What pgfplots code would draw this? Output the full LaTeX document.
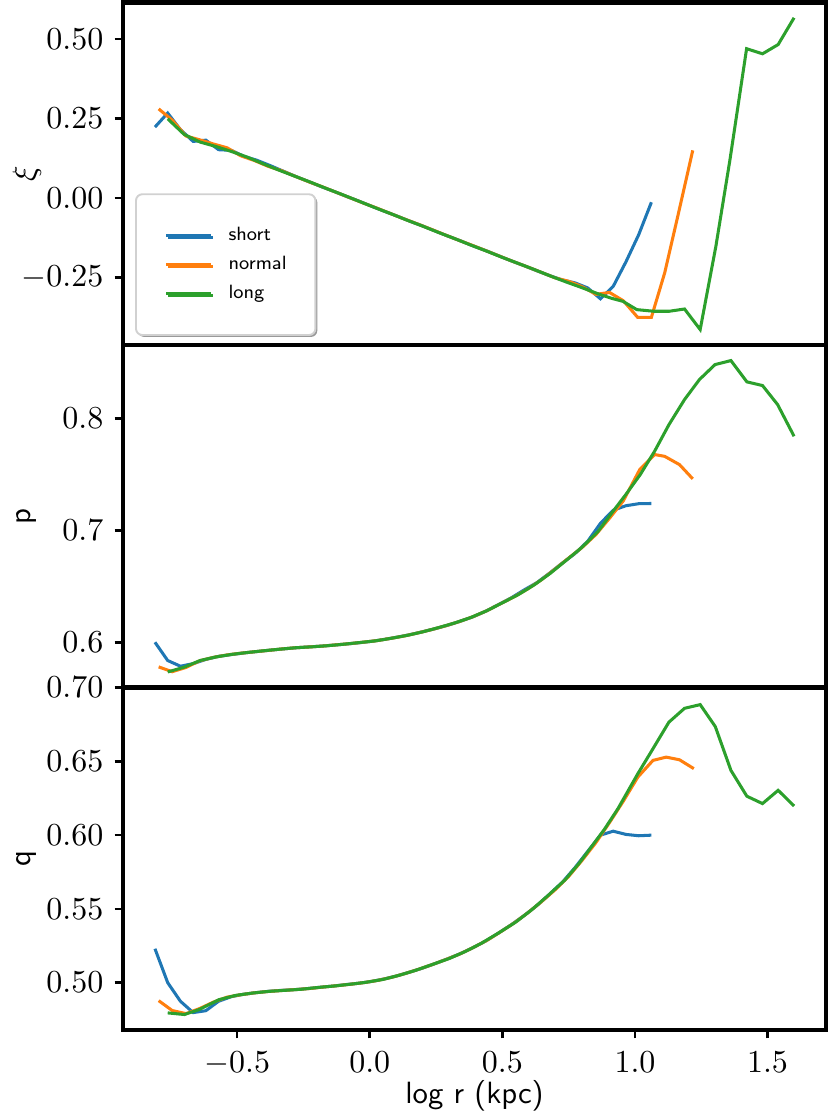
\documentclass[border=0pt]{standalone}
\usepackage{pgfplots}
\pgfplotsset{compat=1.18}
\usetikzlibrary{shadows}
\definecolor{tabblue}{HTML}{1F77B4}
\definecolor{taborange}{HTML}{FF7F0E}
\definecolor{tabgreen}{HTML}{2CA02C}
\pgfplotsset{
 panel/.style={
  scale only axis, width=219.69pt, height=107.03pt,
  xmin=-0.9305, xmax=1.7205,
  axis line style={line width=1.4pt},
  tick align=outside, tick pos=left,
  major tick length=2.6pt,
  every tick/.style={black, line width=0.8pt},
  tick label style={font=\fontsize{10}{12}\selectfont},
  xticklabel style={yshift=-0.8pt},
  xtick={-0.5,0,0.5,1,1.5},
  xticklabel style={/pgf/number format/.cd, fixed, fixed zerofill, precision=1},
  scaled y ticks=false, scaled x ticks=false,
  every axis y label/.style={at={(axis description cs:-0.1366,0.5)}, rotate=90, anchor=center, font=\sffamily\fontsize{9.6}{11}\selectfont},
  every axis plot/.append style={line width=0.95pt},
 },
}
\begin{document}
\begin{tikzpicture}
\path[use as bounding box] (-38.44pt,-25.31pt) rectangle (220.94pt,321.875pt);
% ---------- panel 1: xi ----------
\begin{axis}[panel, at={(0pt,214.06pt)},
  ymin=-0.461, ymax=0.614, ytick={-0.25,0,0.25,0.5},
  yticklabel style={/pgf/number format/.cd, fixed, fixed zerofill, precision=2},
  xtick=\empty, ylabel={$\xi$},
  legend cell align=left,
  legend image code/.code={\draw[#1, line width=0.95pt] (0pt,0pt) -- (14pt,0pt);},
  legend style={at={(axis description cs:0.0171,0.0263)}, anchor=south west,
    draw=black!18, line width=0.6pt, rounded corners=2pt, fill=white,
    drop shadow={shadow xshift=0.6pt, shadow yshift=-0.6pt, fill=black!40, opacity=1},
    font=\sffamily\fontsize{6}{7}\selectfont,
    inner xsep=9pt, inner ysep=10pt, row sep=3.3pt, column sep=5pt,
    nodes={inner sep=0pt, text height=4.4pt, text depth=1.4pt}},
]
\addplot[color=tabblue] coordinates {(-0.810,0.223)(-0.762,0.267)(-0.714,0.215)(-0.666,0.178)(-0.618,0.182)(-0.570,0.152)(-0.522,0.150)(-0.474,0.131)(-0.426,0.119)(-0.378,0.103)(-0.330,0.086)(-0.282,0.069)(-0.234,0.053)(-0.186,0.037)(-0.138,0.022)(-0.090,0.006)(-0.042,-0.009)(0.006,-0.025)(0.054,-0.041)(0.102,-0.056)(0.150,-0.072)(0.198,-0.087)(0.246,-0.103)(0.294,-0.119)(0.342,-0.134)(0.390,-0.150)(0.438,-0.165)(0.486,-0.181)(0.534,-0.197)(0.582,-0.212)(0.630,-0.228)(0.678,-0.243)(0.726,-0.257)(0.774,-0.266)(0.822,-0.282)(0.870,-0.316)(0.918,-0.277)(0.966,-0.200)(1.014,-0.115)(1.062,-0.013)};
\addlegendentry{short}
\addplot[color=taborange] coordinates {(-0.796,0.280)(-0.745,0.245)(-0.693,0.195)(-0.641,0.183)(-0.590,0.170)(-0.538,0.158)(-0.487,0.133)(-0.435,0.118)(-0.384,0.100)(-0.332,0.086)(-0.280,0.068)(-0.229,0.051)(-0.177,0.035)(-0.126,0.018)(-0.074,0.001)(-0.023,-0.016)(0.029,-0.032)(0.080,-0.049)(0.132,-0.066)(0.183,-0.082)(0.235,-0.099)(0.286,-0.116)(0.338,-0.133)(0.389,-0.149)(0.441,-0.166)(0.492,-0.183)(0.544,-0.200)(0.595,-0.216)(0.647,-0.233)(0.698,-0.250)(0.750,-0.261)(0.801,-0.278)(0.853,-0.302)(0.904,-0.296)(0.956,-0.322)(1.010,-0.374)(1.062,-0.374)(1.112,-0.235)(1.162,-0.055)(1.218,0.150)};
\addlegendentry{normal}
\addplot[color=tabgreen] coordinates {(-0.762,0.249)(-0.700,0.200)(-0.640,0.176)(-0.580,0.162)(-0.520,0.146)(-0.460,0.128)(-0.400,0.107)(-0.340,0.087)(-0.280,0.068)(-0.220,0.049)(-0.160,0.029)(-0.100,0.010)(-0.040,-0.010)(0.020,-0.030)(0.080,-0.049)(0.140,-0.069)(0.200,-0.088)(0.260,-0.108)(0.320,-0.127)(0.380,-0.147)(0.440,-0.166)(0.500,-0.186)(0.560,-0.205)(0.620,-0.224)(0.680,-0.244)(0.740,-0.263)(0.800,-0.281)(0.860,-0.300)(0.910,-0.314)(0.955,-0.324)(1.007,-0.350)(1.070,-0.355)(1.130,-0.355)(1.187,-0.348)(1.246,-0.4125)(1.305,-0.152)(1.358,0.119)(1.421,0.469)(1.481,0.453)(1.540,0.482)(1.600,0.566)};
\addlegendentry{long}
\end{axis}
% ---------- panel 2: p ----------
\begin{axis}[panel, at={(0pt,107.03pt)},
  ymin=0.5599, ymax=0.8657, ytick={0.6,0.7,0.8},
  yticklabel style={/pgf/number format/.cd, fixed, fixed zerofill, precision=1},
  xtick=\empty, ylabel={p},
]
\addplot[color=tabblue] coordinates {(-0.810,0.6003)(-0.762,0.5840)(-0.714,0.5789)(-0.666,0.5812)(-0.618,0.5850)(-0.570,0.5877)(-0.522,0.5893)(-0.474,0.5908)(-0.426,0.5920)(-0.378,0.5932)(-0.330,0.5943)(-0.282,0.5953)(-0.234,0.5961)(-0.186,0.5968)(-0.138,0.5977)(-0.090,0.5987)(-0.042,0.5998)(0.006,0.6011)(0.054,0.6028)(0.102,0.6048)(0.150,0.6070)(0.198,0.6096)(0.246,0.6124)(0.294,0.6155)(0.342,0.6191)(0.390,0.6231)(0.438,0.6281)(0.486,0.6340)(0.534,0.6400)(0.582,0.6470)(0.630,0.6535)(0.678,0.6620)(0.726,0.6710)(0.774,0.6795)(0.822,0.6905)(0.870,0.7065)(0.918,0.7182)(0.966,0.7222)(1.014,0.7240)(1.062,0.7242)};
\addplot[color=taborange] coordinates {(-0.796,0.5783)(-0.745,0.5740)(-0.693,0.5778)(-0.641,0.5838)(-0.590,0.5868)(-0.538,0.5890)(-0.487,0.5905)(-0.435,0.5918)(-0.384,0.5930)(-0.332,0.5943)(-0.280,0.5954)(-0.229,0.5961)(-0.177,0.5969)(-0.126,0.5980)(-0.074,0.5991)(-0.023,0.6004)(0.029,0.6018)(0.080,0.6038)(0.132,0.6060)(0.183,0.6087)(0.235,0.6117)(0.286,0.6150)(0.338,0.6188)(0.389,0.6231)(0.441,0.6284)(0.492,0.6346)(0.544,0.6408)(0.595,0.6478)(0.647,0.6560)(0.698,0.6655)(0.750,0.6755)(0.801,0.6850)(0.853,0.6965)(0.904,0.7110)(0.956,0.7265)(1.018,0.7545)(1.074,0.7679)(1.112,0.7663)(1.168,0.7589)(1.218,0.7462)};
\addplot[color=tabgreen] coordinates {(-0.762,0.5738)(-0.700,0.5780)(-0.640,0.5840)(-0.580,0.5872)(-0.520,0.5895)(-0.460,0.5912)(-0.400,0.5927)(-0.340,0.5941)(-0.280,0.5954)(-0.220,0.5962)(-0.160,0.5972)(-0.100,0.5985)(-0.040,0.6000)(0.020,0.6015)(0.080,0.6038)(0.140,0.6064)(0.200,0.6096)(0.260,0.6134)(0.320,0.6175)(0.380,0.6223)(0.440,0.6283)(0.500,0.6355)(0.560,0.6428)(0.620,0.6515)(0.680,0.6617)(0.740,0.6733)(0.800,0.6850)(0.860,0.6990)(0.915,0.7165)(0.965,0.7320)(1.020,0.7500)(1.074,0.7708)(1.128,0.7945)(1.187,0.8170)(1.243,0.8348)(1.302,0.8482)(1.362,0.8518)(1.422,0.8328)(1.481,0.8295)(1.538,0.8125)(1.600,0.7842)};
\end{axis}
% ---------- panel 3: q ----------
\begin{axis}[panel, at={(0pt,0pt)},
  ymin=0.4679, ymax=0.7001, ytick={0.5,0.55,0.6,0.65,0.7},
  yticklabel style={/pgf/number format/.cd, fixed, fixed zerofill, precision=2},
  ylabel={q}, xlabel={log r (kpc)},
  every axis x label/.style={at={(axis description cs:0.5,-0.193)}, anchor=center, font=\sffamily\fontsize{9.6}{11}\selectfont},
]
\addplot[color=tabblue] coordinates {(-0.810,0.5230)(-0.762,0.5000)(-0.714,0.4874)(-0.666,0.4797)(-0.618,0.4810)(-0.570,0.4874)(-0.522,0.4905)(-0.474,0.4922)(-0.426,0.4933)(-0.378,0.4942)(-0.330,0.4948)(-0.282,0.4953)(-0.234,0.4960)(-0.186,0.4969)(-0.138,0.4977)(-0.090,0.4987)(-0.042,0.4996)(0.006,0.5008)(0.054,0.5025)(0.102,0.5046)(0.150,0.5071)(0.198,0.5098)(0.246,0.5129)(0.294,0.5162)(0.342,0.5197)(0.390,0.5238)(0.438,0.5283)(0.486,0.5337)(0.534,0.5393)(0.582,0.5455)(0.630,0.5522)(0.678,0.5600)(0.726,0.5680)(0.774,0.5780)(0.822,0.5890)(0.870,0.6000)(0.918,0.6027)(0.966,0.6005)(1.014,0.5996)(1.062,0.6000)};
\addplot[color=taborange] coordinates {(-0.796,0.4878)(-0.745,0.4811)(-0.693,0.4790)(-0.641,0.4825)(-0.590,0.4868)(-0.538,0.4902)(-0.487,0.4918)(-0.435,0.4931)(-0.384,0.4940)(-0.332,0.4947)(-0.280,0.4953)(-0.229,0.4960)(-0.177,0.4970)(-0.126,0.4979)(-0.074,0.4989)(-0.023,0.5000)(0.029,0.5015)(0.080,0.5035)(0.132,0.5061)(0.183,0.5090)(0.235,0.5122)(0.286,0.5156)(0.338,0.5193)(0.389,0.5237)(0.441,0.5286)(0.492,0.5343)(0.544,0.5404)(0.595,0.5472)(0.647,0.5548)(0.698,0.5628)(0.750,0.5720)(0.801,0.5830)(0.853,0.5950)(0.904,0.6085)(0.956,0.6230)(1.011,0.6394)(1.068,0.6507)(1.118,0.6529)(1.168,0.6511)(1.222,0.6451)};
\addplot[color=tabgreen] coordinates {(-0.762,0.4795)(-0.699,0.4784)(-0.643,0.4818)(-0.568,0.4885)(-0.505,0.4914)(-0.440,0.4930)(-0.380,0.4941)(-0.320,0.4948)(-0.260,0.4955)(-0.192,0.4968)(-0.130,0.4978)(-0.070,0.4990)(-0.016,0.5002)(0.050,0.5022)(0.109,0.5049)(0.170,0.5082)(0.234,0.5122)(0.300,0.5164)(0.360,0.5211)(0.420,0.5266)(0.485,0.5336)(0.550,0.5410)(0.610,0.5493)(0.670,0.5587)(0.736,0.5696)(0.790,0.5810)(0.836,0.5921)(0.885,0.6040)(0.936,0.6180)(1.011,0.6417)(1.068,0.6586)(1.128,0.6766)(1.187,0.6860)(1.246,0.6885)(1.303,0.6736)(1.362,0.6439)(1.422,0.6264)(1.481,0.6214)(1.540,0.6304)(1.600,0.6198)};
\end{axis}
\end{tikzpicture}
\end{document}
